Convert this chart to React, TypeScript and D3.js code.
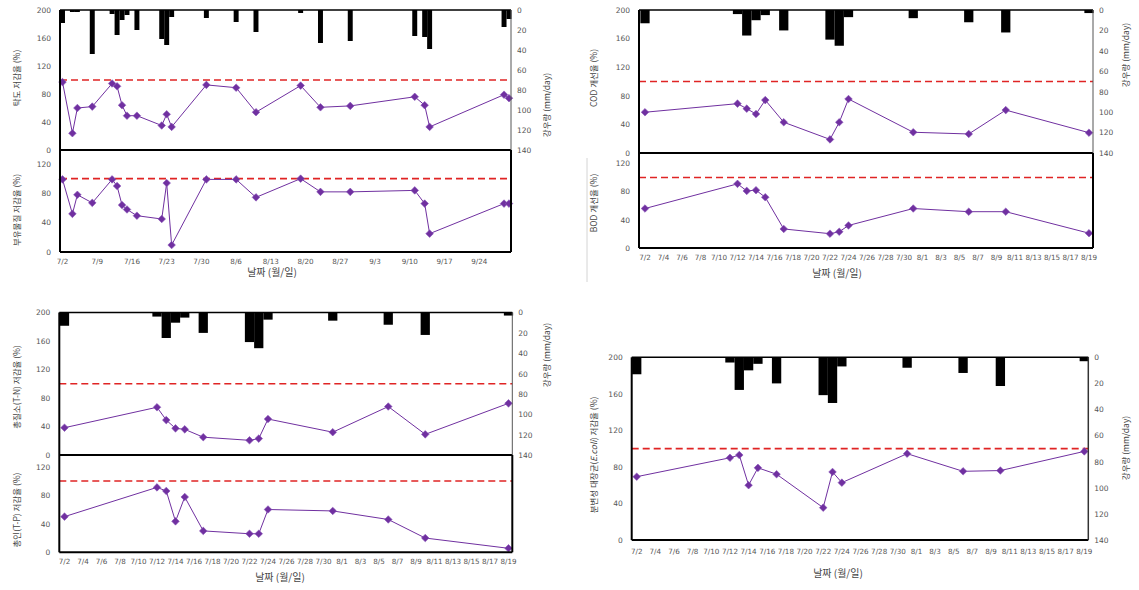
import React from "react";
import * as d3 from "d3";

// ---------- data ----------
const rainDates = ["7/2","7/4","7/5","7/8","7/12","7/13","7/14","7/15","7/17","7/22","7/23","7/24","7/31","8/6","8/10","8/19","8/23","8/29","9/11","9/13","9/14","9/29","9/30"];
const rainMm = [13,2,2,44,4,25,10,5,20,29,35,7,8,12,22,3,33,31,26,27,39,17,9];

const datesA = ["7/2","7/4","7/5","7/8","7/12","7/13","7/14","7/15","7/17","7/22","7/23","7/24","7/31","8/6","8/10","8/19","8/23","8/29","9/11","9/13","9/14","9/29","9/30"];
const turbidityRate = [97,24,60,62,95,91,64,49,49,35,51,33,93,89,54,92,61,63,76,64,33,79,74];
const ssRate = [99,52,78,67,99,90,64,58,49.5,45,94,9.5,99,99,74.5,100,82,82,84,66,25,66,66];

const datesB = ["7/2","7/12","7/13","7/14","7/15","7/17","7/22","7/23","7/24","7/31","8/6","8/10","8/19"];
const codRate = [57,69,62,54.5,74,43,19,43,75.5,29,26.6,60,28.4];
const bodRate = [56,91,81,82,72,27,20.3,23,32,56,51.5,51.5,21];
const tnRate = [38.3,67,49,37.4,36,25,20.6,23,50.5,32,68,29,72.5];
const tpRate = [50,91,86,43.4,77.5,30,26,26,60,58,46,20,5.6];
const ecoliRate = [69.3,90,93,60,79,72,35.4,74.5,62.8,94.5,75.2,76,97];

const ticksA = ["7/2","7/9","7/16","7/23","7/30","8/6","8/13","8/20","8/27","9/3","9/10","9/17","9/24"];
const ticksB = ["7/2","7/4","7/6","7/8","7/10","7/12","7/14","7/16","7/18","7/20","7/22","7/24","7/26","7/28","7/30","8/1","8/3","8/5","8/7","8/9","8/11","8/13","8/15","8/17","8/19"];
const rateTicksUpper = [0,40,80,120,160,200];
const rateTicksLower = [0,40,80,120];
const rainTicks = [0,20,40,60,80,100,120,140];
const targetRate = 100;

// ---------- helpers ----------
const PURPLE = "#7030A0";
const RED = "#E02424";
const TICK_FONT = "'DejaVu Sans', sans-serif";
const KR_FONT = "'Noto Sans CJK KR', sans-serif";

function dayNum(s: string) {
  const [m, d] = s.split("/").map(Number);
  return m === 7 ? d : m === 8 ? 31 + d : 62 + d;
}
const rainMap = new Map(rainDates.map((d, i) => [d, rainMm[i]]));

type Sc = d3.ScaleLinear<number, number>;

function Series({ dates, values, x, y }: { dates: string[]; values: number[]; x: Sc; y: Sc }) {
  const pts = dates.map((d, i) => [x(dayNum(d)), y(values[i])] as [number, number]);
  const line = d3.line();
  const r = 3.8;
  return (
    <g>
      <path d={line(pts) || ""} fill="none" stroke={PURPLE} strokeWidth={1} />
      {pts.map(([px, py], i) => (
        <path key={i} d={`M${px},${py - r}L${px + r},${py}L${px},${py + r}L${px - r},${py}Z`} fill={PURPLE} stroke="#8a55b8" strokeWidth={0.6} />
      ))}
    </g>
  );
}

function Target({ x0, x1, y }: { x0: number; x1: number; y: number }) {
  return <line x1={x0} x2={x1} y1={y} y2={y} stroke={RED} strokeWidth={1.6} strokeDasharray="7,4" />;
}

function Bars({ dates, x, ry }: { dates: string[]; x: Sc; ry: Sc }) {
  return (
    <g>
      {dates.filter(d => rainMap.has(d)).map((d, i) => {
        const dn = dayNum(d);
        const xa = x(dn - 0.5), xb = x(dn + 0.5);
        const mm = rainMap.get(d) as number;
        return <rect key={i} x={xa} width={xb - xa} y={ry(0)} height={ry(mm) - ry(0)} fill="#000" />;
      })}
    </g>
  );
}

function LeftTicks({ ticks, y, left }: { ticks: number[]; y: Sc; left: number }) {
  return (
    <g>
      {ticks.map(t => (
        <text key={t} x={left - 9} y={y(t) + 2.8} textAnchor="end" fontSize={7.5} fontFamily={TICK_FONT} fill="#555">{t}</text>
      ))}
    </g>
  );
}

function RightTicks({ ticks, y, right }: { ticks: number[]; y: Sc; right: number }) {
  return (
    <g>
      {ticks.map(t => (
        <text key={t} x={right + 6} y={y(t) + 2.8} textAnchor="start" fontSize={7.5} fontFamily={TICK_FONT} fill="#555">{t}</text>
      ))}
    </g>
  );
}

function XTicks({ ticks, x, y }: { ticks: string[]; x: Sc; y: number }) {
  return (
    <g>
      {ticks.map(t => (
        <text key={t} x={x(dayNum(t))} y={y} textAnchor="middle" fontSize={7.2} fontFamily={TICK_FONT} fill="#555">{t}</text>
      ))}
    </g>
  );
}

function VTitle({ x, y, children, size = 8.5 }: { x: number; y: number; children: React.ReactNode; size?: number }) {
  return (
    <text transform={`translate(${x},${y}) rotate(-90)`} textAnchor="middle" dominantBaseline="middle" fontSize={size} fontFamily={KR_FONT} fill="#444">{children}</text>
  );
}

function XTitle({ x, y }: { x: number; y: number }) {
  return <text x={x} y={y} textAnchor="middle" fontSize={10} fontFamily={KR_FONT} fill="#444">날짜 (월/일)</text>;
}

// ---------- panels ----------
function PanelA() {
  const left = 60, right = 511, top = 10, mid = 150, bottom = 252;
  const x = d3.scaleLinear().domain([dayNum("7/2"), dayNum("9/30")]).range([62.5, 509]);
  const yU = d3.scaleLinear().domain([0, 200]).range([mid, top]);
  const yL = d3.scaleLinear().domain([0, 120]).range([bottom, 164]);
  const ry = d3.scaleLinear().domain([0, 140]).range([top, mid]);
  return (
    <g>
      <Bars dates={datesA} x={x} ry={ry} />
      <Target x0={left} x1={right} y={yU(targetRate)} />
      <Target x0={left} x1={right} y={yL(targetRate)} />
      <Series dates={datesA} values={turbidityRate} x={x} y={yU} />
      <Series dates={datesA} values={ssRate} x={x} y={yL} />
      <line x1={left} x2={right} y1={top} y2={top} stroke="#000" strokeWidth={1.5} />
      <line x1={left} x2={right} y1={mid} y2={mid} stroke="#000" strokeWidth={2} />
      <line x1={left} x2={right} y1={bottom} y2={bottom} stroke="#000" strokeWidth={2} />
      <line x1={left} x2={left} y1={top} y2={bottom} stroke="#000" strokeWidth={2} />
      <line x1={right} x2={right} y1={top} y2={mid} stroke="#555" strokeWidth={1} />
      <line x1={right} x2={right} y1={mid} y2={bottom} stroke="#000" strokeWidth={2} />
      <LeftTicks ticks={rateTicksUpper} y={yU} left={left} />
      <LeftTicks ticks={rateTicksLower} y={yL} left={left} />
      <RightTicks ticks={rainTicks} y={ry} right={right} />
      <XTicks ticks={ticksA} x={x} y={264} />
      <XTitle x={272} y={276} />
      <VTitle x={18} y={78}>탁도 저감율 (%)</VTitle>
      <VTitle x={18} y={210}>부유물질 저감율 (%)</VTitle>
      <VTitle x={548} y={105}>강우량 (mm/day)</VTitle>
    </g>
  );
}

function PanelB() {
  const left = 639, right = 1093, top = 10, mid = 153, bottom = 248;
  const x = d3.scaleLinear().domain([dayNum("7/2"), dayNum("8/19")]).range([645, 1089]);
  const yU = d3.scaleLinear().domain([0, 200]).range([mid, top]);
  const yL = d3.scaleLinear().domain([0, 120]).range([bottom, 163.4]);
  const ry = d3.scaleLinear().domain([0, 140]).range([top, mid]);
  return (
    <g>
      <line x1={587} x2={587} y1={158} y2={282} stroke="#d4d4d4" strokeWidth={1} />
      <Bars dates={datesB} x={x} ry={ry} />
      <Target x0={left} x1={right} y={yU(targetRate)} />
      <Target x0={left} x1={right} y={yL(targetRate)} />
      <Series dates={datesB} values={codRate} x={x} y={yU} />
      <Series dates={datesB} values={bodRate} x={x} y={yL} />
      <line x1={left} x2={right} y1={top} y2={top} stroke="#000" strokeWidth={1.5} />
      <line x1={left} x2={right} y1={mid} y2={mid} stroke="#000" strokeWidth={2} />
      <line x1={left} x2={right} y1={bottom} y2={bottom} stroke="#000" strokeWidth={2} />
      <line x1={left} x2={left} y1={top} y2={bottom} stroke="#000" strokeWidth={2} />
      <line x1={right} x2={right} y1={top} y2={mid} stroke="#555" strokeWidth={1} />
      <line x1={right} x2={right} y1={mid} y2={bottom} stroke="#000" strokeWidth={2} />
      <LeftTicks ticks={rateTicksUpper} y={yU} left={left} />
      <LeftTicks ticks={rateTicksLower} y={yL} left={left} />
      <RightTicks ticks={rainTicks} y={ry} right={right} />
      <XTicks ticks={ticksB} x={x} y={260} />
      <XTitle x={837} y={277} />
      <VTitle x={595} y={78}>COD 개선율 (%)</VTitle>
      <VTitle x={595} y={203}>BOD 개선율 (%)</VTitle>
      <VTitle x={1127} y={55}>강우량 (mm/day)</VTitle>
    </g>
  );
}

function PanelC() {
  const left = 59.3, right = 512.3, top = 312.5, mid = 455, bottom = 552.3;
  const x = d3.scaleLinear().domain([dayNum("7/2"), dayNum("8/19")]).range([64.5, 508.5]);
  const yU = d3.scaleLinear().domain([0, 200]).range([mid, top]);
  const yL = d3.scaleLinear().domain([0, 120]).range([bottom, 466.7]);
  const ry = d3.scaleLinear().domain([0, 140]).range([top, 455.3]);
  return (
    <g>
      <Bars dates={datesB} x={x} ry={ry} />
      <Target x0={left} x1={right} y={yU(targetRate)} />
      <Target x0={left} x1={right} y={yL(targetRate)} />
      <Series dates={datesB} values={tnRate} x={x} y={yU} />
      <Series dates={datesB} values={tpRate} x={x} y={yL} />
      <line x1={left} x2={right} y1={top} y2={top} stroke="#000" strokeWidth={1.5} />
      <line x1={left} x2={right} y1={mid} y2={mid} stroke="#000" strokeWidth={2} />
      <line x1={left} x2={right} y1={bottom} y2={bottom} stroke="#000" strokeWidth={2} />
      <line x1={left} x2={left} y1={top} y2={bottom} stroke="#000" strokeWidth={2} />
      <line x1={right} x2={right} y1={top} y2={mid} stroke="#555" strokeWidth={1} />
      <line x1={right} x2={right} y1={mid} y2={bottom} stroke="#000" strokeWidth={2} />
      <LeftTicks ticks={rateTicksUpper} y={yU} left={left} />
      <LeftTicks ticks={rateTicksLower} y={yL} left={left} />
      <RightTicks ticks={rainTicks} y={ry} right={right} />
      <XTicks ticks={ticksB} x={x} y={564} />
      <XTitle x={280} y={581} />
      <VTitle x={18} y={387}>총질소(T-N) 저감율 (%)</VTitle>
      <VTitle x={18} y={510}>총인(T-P) 저감율 (%)</VTitle>
      <VTitle x={548} y={355}>강우량 (mm/day)</VTitle>
    </g>
  );
}

function PanelD() {
  const left = 631.7, right = 1088.3, top = 357.3, bottom = 540;
  const x = d3.scaleLinear().domain([dayNum("7/2"), dayNum("8/19")]).range([636.7, 1084.3]);
  const y = d3.scaleLinear().domain([0, 200]).range([bottom, top]);
  const ry = d3.scaleLinear().domain([0, 140]).range([top, bottom]);
  return (
    <g>
      <Bars dates={datesB} x={x} ry={ry} />
      <Target x0={left} x1={right} y={y(targetRate)} />
      <Series dates={datesB} values={ecoliRate} x={x} y={y} />
      <line x1={left} x2={right} y1={top} y2={top} stroke="#000" strokeWidth={1.5} />
      <line x1={left} x2={right} y1={bottom} y2={bottom} stroke="#000" strokeWidth={2} />
      <line x1={left} x2={left} y1={top} y2={bottom} stroke="#000" strokeWidth={2} />
      <line x1={right} x2={right} y1={top} y2={bottom} stroke="#333" strokeWidth={1.5} />
      <LeftTicks ticks={rateTicksUpper} y={y} left={left} />
      <RightTicks ticks={rainTicks} y={ry} right={right} />
      <XTicks ticks={ticksB} x={x} y={554} />
      <XTitle x={838} y={577} />
      <VTitle x={595} y={455}>
        분변성 대장균(<tspan fontStyle="italic">E.coli</tspan>) 저감율 (%)
      </VTitle>
      <VTitle x={1127} y={448}>강우량 (mm/day)</VTitle>
    </g>
  );
}

export default function App() {
  return (
    <svg width={1139} height={590} style={{ position: "absolute", left: 0, top: 0, background: "#fff" }}>
      <rect width={1139} height={590} fill="#fff" />
      <PanelA />
      <PanelB />
      <PanelC />
      <PanelD />
    </svg>
  );
}
